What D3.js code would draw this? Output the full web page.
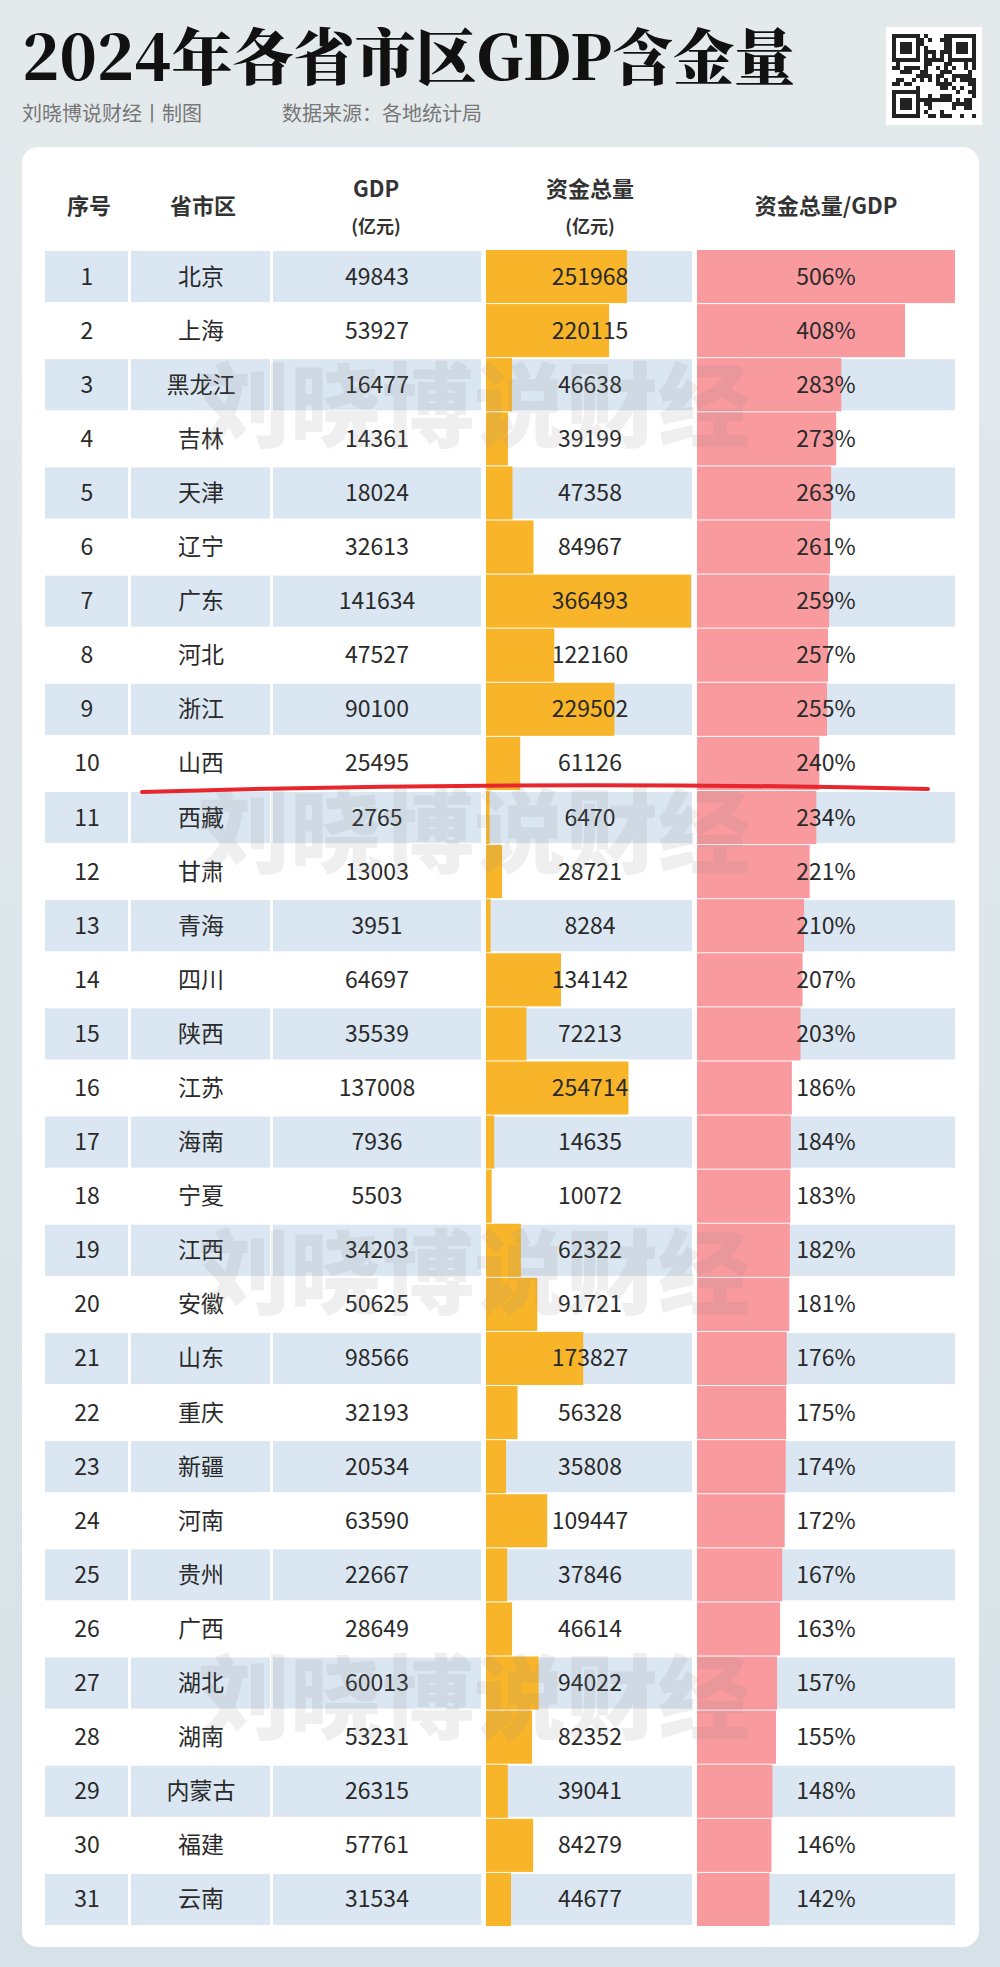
<!DOCTYPE html>
<html><head><meta charset="utf-8">
<script src="https://cdn.jsdelivr.net/npm/d3@7"></script>
<style>body{margin:0;background:#dfe7eb}</style></head>
<body><script>
const ranks=d3.range(1,32);
const provinces=["北京","上海","黑龙江","吉林","天津","辽宁","广东","河北","浙江","山西","西藏","甘肃","青海","四川","陕西","江苏","海南","宁夏","江西","安徽","山东","重庆","新疆","河南","贵州","广西","湖北","湖南","内蒙古","福建","云南"];
const gdp=[49843,53927,16477,14361,18024,32613,141634,47527,90100,25495,2765,13003,3951,64697,35539,137008,7936,5503,34203,50625,98566,32193,20534,63590,22667,28649,60013,53231,26315,57761,31534];
const funds=[251968,220115,46638,39199,47358,84967,366493,122160,229502,61126,6470,28721,8284,134142,72213,254714,14635,10072,62322,91721,173827,56328,35808,109447,37846,46614,94022,82352,39041,84279,44677];
const ratio=[506,408,283,273,263,261,259,257,255,240,234,221,210,207,203,186,184,183,182,181,176,175,174,172,167,163,157,155,148,146,142];
const F="'Noto Sans CJK SC','Noto Sans',sans-serif";
const W=1000,H=1967;
const svg=d3.select("body").append("svg").attr("width",W).attr("height",H);
const defs=svg.append("defs");
const g=defs.append("linearGradient").attr("id","bg").attr("x1",0).attr("y1",0).attr("x2",0).attr("y2",1);
g.append("stop").attr("offset",0).attr("stop-color","#e4eaec");
g.append("stop").attr("offset",1).attr("stop-color","#d6e2e8");
svg.append("rect").attr("width",W).attr("height",H).attr("fill","url(#bg)");
svg.append("text").attr("x",22).attr("y",80).attr("font-family","'Noto Serif CJK SC','DejaVu Serif',serif").attr("font-weight",900).attr("font-size",61).attr("fill","#111").text("2024年各省市区GDP含金量");
svg.append("text").attr("x",22).attr("y",121).attr("font-family",F).attr("font-size",20).attr("fill","#777").text("刘晓博说财经丨制图");
svg.append("text").attr("x",282).attr("y",121).attr("font-family",F).attr("font-size",20).attr("fill","#777").text("数据来源：各地统计局");
// QR placeholder
const qr=svg.append("g").attr("transform","translate(886,27)");
qr.append("rect").attr("width",96).attr("height",98).attr("fill","#fff");
const qx=d3.scaleBand().domain(d3.range(21)).range([6,90]);
let seed=7;const rnd=()=>{seed=(seed*9301+49297)%233280;return seed/233280;};
d3.range(21).forEach(i=>d3.range(21).forEach(j=>{const corner=(i<7&&j<7)||(i>13&&j<7)||(i<7&&j>13);
 let on; if(corner){const ii=i>13?i-14:i,jj=j>13?j-14:j;on=(ii==0||ii==6||jj==0||jj==6)||(ii>=2&&ii<=4&&jj>=2&&jj<=4);} else on=rnd()>0.5;
 if(on)qr.append("rect").attr("x",qx(i)).attr("y",qx(j)+1).attr("width",qx.bandwidth()).attr("height",qx.bandwidth()).attr("fill","#222");}));
// card
svg.append("rect").attr("x",22).attr("y",147).attr("width",957).attr("height",1800).attr("rx",16).attr("fill","#fff");
// header
const hd=[["序号",89,null],["省市区",203,null],["GDP",376,"(亿元)"],["资金总量",590,"(亿元)"],["资金总量/GDP",826,null]];
hd.forEach(([t,x,s])=>{
 const tx=svg.append("text").attr("x",x).attr("text-anchor","middle").attr("font-family",F).attr("font-weight",700).attr("font-size",22).attr("fill","#333");
 if(s){tx.attr("y",197).text(t);svg.append("text").attr("x",x).attr("y",233).attr("text-anchor","middle").attr("font-family",F).attr("font-weight",700).attr("font-size",18).attr("fill","#333").text(s);}
 else tx.attr("y",214).text(t);
});
const y=d3.scaleBand().domain(ranks).range([251,251+31*54]).paddingInner(3/54).paddingOuter(0);
const xf=d3.scaleLinear().domain([0,d3.max(funds)]).range([0,205]);
const xr=d3.scaleLinear().domain([0,d3.max(ratio)]).range([0,258]);
const cols=[[45,128],[131,270],[273,481],[486,692],[697,955]];
const rows=svg.append("g").selectAll("g").data(ranks.map((r,i)=>({r,i}))).join("g").attr("transform",d=>`translate(0,${y(d.r)})`);
const bh=y.bandwidth();
cols.forEach(([a,b])=>rows.append("rect").attr("x",a).attr("width",b-a).attr("height",bh).attr("fill",d=>d.i%2==0?"#dae6f1":"#ffffff"));
rows.append("rect").attr("x",486).attr("y",-1).attr("width",d=>xf(funds[d.i])).attr("height",bh+2).attr("fill","#f8b52a");
rows.append("rect").attr("x",697).attr("y",-1).attr("width",d=>xr(ratio[d.i])).attr("height",bh+2).attr("fill","#f99a9f");
const txt=(x,f)=>rows.append("text").attr("x",x).attr("y",bh/2+8).attr("text-anchor","middle").attr("font-family",F).attr("font-size",23).attr("fill","#2a2a2a").text(f);
txt(87,d=>d.r);txt(201,d=>provinces[d.i]);txt(377,d=>gdp[d.i]);txt(590,d=>funds[d.i]);txt(826,d=>ratio[d.i]+"%");
// watermarks
[408,834,1275,1700].forEach(cy=>svg.append("text").attr("x",474).attr("y",cy+32).attr("text-anchor","middle").attr("font-family",F).attr("font-weight",900).attr("font-size",92).attr("fill","#888").attr("opacity",0.13).text("刘晓博说财经"));
// red line
svg.append("path").attr("d","M142,792 Q540,780 928,789").attr("fill","none").attr("stroke","#e8262e").attr("stroke-width",4).attr("stroke-linecap","round");
</script></body></html>
